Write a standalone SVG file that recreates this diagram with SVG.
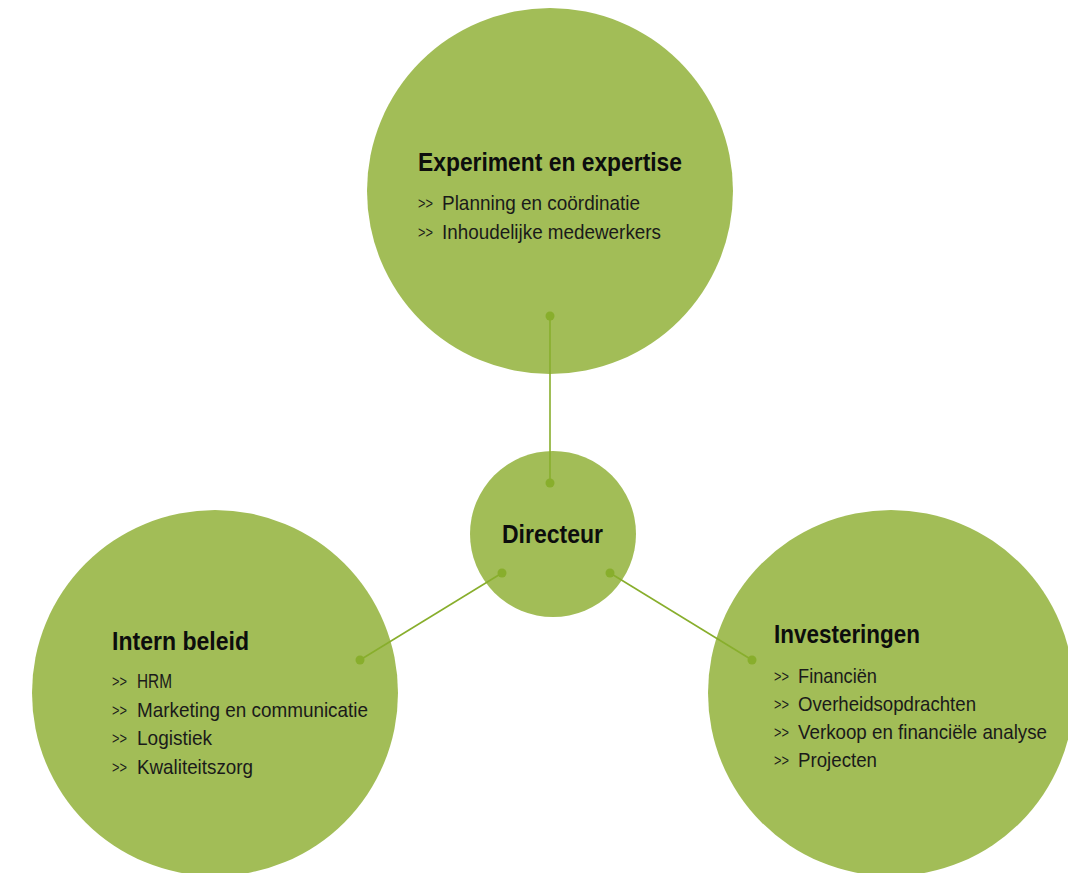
<svg xmlns="http://www.w3.org/2000/svg" width="1068" height="873" viewBox="0 0 1068 873">
<style>
.c{fill:#a2bd57}
.t{font-family:"Liberation Sans",Arial,sans-serif;font-weight:bold;font-size:25px;fill:#0d0d0d}
.i{font-family:"Liberation Sans",Arial,sans-serif;font-size:21px;fill:#1a1a1a}
.b{font-family:"Liberation Sans",Arial,sans-serif;font-size:16px;fill:#1a1a1a}
.l{stroke:#88ae2c;stroke-width:1.6;fill:none}
.d{fill:#88ae2c}
</style>
<rect width="1068" height="873" fill="#ffffff"/>
<g id="experiment">
<circle class="c" cx="550" cy="191" r="183"/>
<text class="t" x="418" y="171" textLength="264" lengthAdjust="spacingAndGlyphs">Experiment en expertise</text>
<text class="b" x="418" y="209" textLength="15" lengthAdjust="spacingAndGlyphs">&gt;&gt;</text>
<text class="i" x="442" y="210" textLength="198" lengthAdjust="spacingAndGlyphs">Planning en coördinatie</text>
<text class="b" x="418" y="238" textLength="15" lengthAdjust="spacingAndGlyphs">&gt;&gt;</text>
<text class="i" x="442" y="239" textLength="219" lengthAdjust="spacingAndGlyphs">Inhoudelijke medewerkers</text>
</g>
<g id="intern">
<circle class="c" cx="215" cy="693" r="183"/>
<text class="t" x="112" y="650" textLength="137" lengthAdjust="spacingAndGlyphs">Intern beleid</text>
<text class="b" x="112" y="687" textLength="15" lengthAdjust="spacingAndGlyphs">&gt;&gt;</text>
<text class="i" x="137" y="688" textLength="35" lengthAdjust="spacingAndGlyphs">HRM</text>
<text class="b" x="112" y="716" textLength="15" lengthAdjust="spacingAndGlyphs">&gt;&gt;</text>
<text class="i" x="137" y="717" textLength="231" lengthAdjust="spacingAndGlyphs">Marketing en communicatie</text>
<text class="b" x="112" y="744" textLength="15" lengthAdjust="spacingAndGlyphs">&gt;&gt;</text>
<text class="i" x="137" y="745" textLength="75" lengthAdjust="spacingAndGlyphs">Logistiek</text>
<text class="b" x="112" y="773" textLength="15" lengthAdjust="spacingAndGlyphs">&gt;&gt;</text>
<text class="i" x="137" y="774" textLength="116" lengthAdjust="spacingAndGlyphs">Kwaliteitszorg</text>
</g>
<g id="investeringen">
<circle class="c" cx="891" cy="693" r="183"/>
<text class="t" x="774" y="643" textLength="146" lengthAdjust="spacingAndGlyphs">Investeringen</text>
<text class="b" x="774" y="682" textLength="15" lengthAdjust="spacingAndGlyphs">&gt;&gt;</text>
<text class="i" x="798" y="683" textLength="79" lengthAdjust="spacingAndGlyphs">Financiën</text>
<text class="b" x="774" y="710" textLength="15" lengthAdjust="spacingAndGlyphs">&gt;&gt;</text>
<text class="i" x="798" y="711" textLength="178" lengthAdjust="spacingAndGlyphs">Overheidsopdrachten</text>
<text class="b" x="774" y="738" textLength="15" lengthAdjust="spacingAndGlyphs">&gt;&gt;</text>
<text class="i" x="798" y="739" textLength="249" lengthAdjust="spacingAndGlyphs">Verkoop en financiële analyse</text>
<text class="b" x="774" y="766" textLength="15" lengthAdjust="spacingAndGlyphs">&gt;&gt;</text>
<text class="i" x="798" y="767" textLength="79" lengthAdjust="spacingAndGlyphs">Projecten</text>
</g>
<g id="directeur">
<circle class="c" cx="553" cy="534" r="83"/>
<text class="t" x="502" y="543" textLength="101" lengthAdjust="spacingAndGlyphs">Directeur</text>
</g>
<g id="connectors">
<line class="l" x1="550" y1="316" x2="550" y2="483"/>
<circle class="d" cx="550" cy="316" r="4.5"/>
<circle class="d" cx="550" cy="483" r="4.5"/>
<line class="l" x1="502" y1="573" x2="360" y2="660"/>
<circle class="d" cx="502" cy="573" r="4.5"/>
<circle class="d" cx="360" cy="660" r="4.5"/>
<line class="l" x1="610" y1="573" x2="752" y2="660"/>
<circle class="d" cx="610" cy="573" r="4.5"/>
<circle class="d" cx="752" cy="660" r="4.5"/>
</g>
</svg>
